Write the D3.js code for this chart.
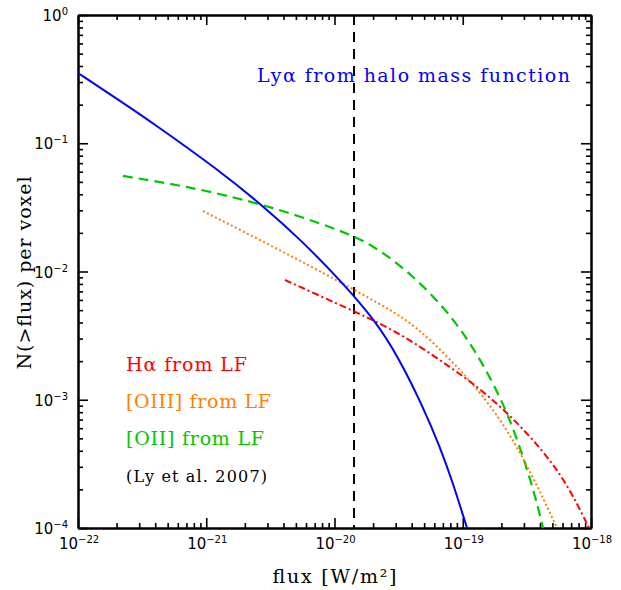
<!DOCTYPE html>
<html>
<head>
<meta charset="utf-8">
<script src="https://cdn.jsdelivr.net/npm/d3@7"></script>
<style>
  body { margin: 0; background: #fff; }
  text { font-family: "DejaVu Serif", serif; }
  .tick-label { font-family: "DejaVu Sans", sans-serif; }
</style>
</head>
<body>
<script>
// flux values [W/m^2] and N(>flux) per voxel
var lyaFlux = [1e-22, 2.13e-22, 3.64e-22, 1.28e-21, 2.77e-21, 5.38e-21, 1.104e-20, 2.07e-20, 3.24e-20, 4.9e-20, 6.65e-20, 8.39e-20, 1.079e-19];
var lyaN    = [0.353, 0.2135, 0.149, 0.0608, 0.0324, 0.0179, 0.00859, 0.00419, 0.00204, 0.000878, 0.000428, 0.000224, 1e-4];

var oiiFlux = [2.24e-22, 6.83e-22, 2.63e-21, 1.104e-20, 2.0e-20, 4.09e-20, 8.39e-20, 1.44e-19, 2.34e-19, 3.53e-19, 4.23e-19];
var oiiN    = [0.0556, 0.0464, 0.0342, 0.0211, 0.0161, 0.00939, 0.00442, 0.00193, 0.000734, 0.000209, 1e-4];

var oiiiFlux = [9.43e-22, 3.76e-21, 1.104e-20, 2.26e-20, 3.68e-20, 5.86e-20, 9.52e-20, 1.36e-19, 2.34e-19, 4.0e-19, 5.43e-19];
var oiiiN    = [0.0296, 0.0147, 0.00828, 0.00558, 0.00419, 0.00282, 0.00171, 0.00115, 0.000551, 0.000194, 1e-4];

var haFlux = [4.11e-21, 1.104e-20, 2.0e-20, 3.68e-20, 6.65e-20, 1.2e-19, 2.21e-19, 4.0e-19, 6.5e-19, 9.65e-19];
var haN    = [0.00859, 0.00548, 0.00419, 0.00303, 0.00204, 0.00135, 0.000803, 0.000428, 0.000224, 1e-4];

var fluxLimit = 1.42e-20;

var xDecades = [-22, -21, -20, -19, -18];
var yDecades = [0, -1, -2, -3, -4];

var legendLines = [
  { label: "H\u03b1 from LF", color: "#ff0000", size: 19, len: 121 },
  { label: "[OIII] from LF", color: "#ff8000", size: 19, len: 145 },
  { label: "[OII] from LF", color: "#00c800", size: 19, len: 138 },
  { label: "(Ly et al. 2007)", color: "#000000", size: 16, len: 141 }
];

main();

function main() {
  setupCanvasSize();
  appendSvg("body");
  setupScales();
  appendAxes();
  appendCurves();
  addLabels();
}

function setupCanvasSize() {
  margin = { top: 15, left: 78, bottom: 62, right: 30 };
  width = 621 - margin.left - margin.right;
  height = 590 - margin.top - margin.bottom;
}

function appendSvg(domElement) {
  svg = d3.select(domElement).append("svg")
    .attr("width", 621)
    .attr("height", 590)
    .append("g")
    .attr("transform", `translate(${margin.left}, ${margin.top})`);
}

function setupScales() {
  x = d3.scaleLog().domain([1e-22, 1e-18]).range([0, width]);
  y = d3.scaleLog().domain([1e-4, 1]).range([height, 0]);
}

function minorTicks(decades) {
  var out = [];
  decades.forEach(function (e) {
    for (var m = 2; m <= 9; m++) out.push(m * Math.pow(10, e));
  });
  return out;
}

function styleAxis(g) {
  g.select(".domain").attr("stroke", "#000").attr("stroke-width", 2);
  g.selectAll(".tick line").attr("stroke", "#000").attr("stroke-width", 1.6);
  g.selectAll(".tick text").remove();
}

function appendAxes() {
  var xMajor = xDecades.map(function (e) { return Math.pow(10, e); });
  var yMajor = yDecades.map(function (e) { return Math.pow(10, e); });
  var xMinor = minorTicks(xDecades.slice(0, 4));
  var yMinor = minorTicks(yDecades.slice(1));

  var axes = [
    [d3.axisBottom(x), height, 0, xMajor, xMinor],
    [d3.axisTop(x), 0, 0, xMajor, xMinor],
    [d3.axisLeft(y), 0, 0, yMajor, yMinor],
    [d3.axisRight(y), 0, width, yMajor, yMinor]
  ];
  axes.forEach(function (a) {
    svg.append("g")
      .attr("transform", `translate(${a[2]}, ${a[1]})`)
      .call(a[0].tickValues(a[4]).tickSize(-5).tickSizeOuter(0).tickFormat(""))
      .call(styleAxis);
    svg.append("g")
      .attr("transform", `translate(${a[2]}, ${a[1]})`)
      .call(a[0].tickValues(a[3]).tickSize(-10).tickSizeOuter(0).tickFormat(""))
      .call(styleAxis);
  });

  // x tick labels
  var xl = svg.selectAll(".xlab").data(xDecades).enter().append("text")
    .attr("class", "tick-label")
    .attr("x", function (d) { return x(Math.pow(10, d)) + 1; })
    .attr("y", height + 21)
    .attr("text-anchor", "middle")
    .style("font-size", "15px");
  xl.append("tspan").text("10");
  xl.append("tspan").attr("dy", -6).style("font-size", "10px").text(function (d) { return "\u2212" + (-d); });

  // y tick labels
  var yl = svg.selectAll(".ylab").data(yDecades).enter().append("text")
    .attr("class", "tick-label")
    .attr("x", -10)
    .attr("y", function (d) { return y(Math.pow(10, d)) + 6; })
    .attr("text-anchor", "end")
    .style("font-size", "15px");
  yl.append("tspan").text("10");
  yl.append("tspan").attr("dy", -6).style("font-size", "10px")
    .text(function (d) { return d === 0 ? "0" : "\u2212" + (-d); });
}

function drawCurve(xs, ys, color, dash, w) {
  var pts = xs.map(function (v, i) { return [v, ys[i]]; });
  var line = d3.line()
    .x(function (d) { return x(d[0]); })
    .y(function (d) { return y(d[1]); })
    .curve(d3.curveBasis);
  svg.append("path")
    .datum(pts)
    .attr("fill", "none")
    .attr("stroke", color)
    .attr("stroke-width", w)
    .attr("stroke-dasharray", dash)
    .attr("d", line);
}

function appendCurves() {
  svg.append("line")
    .attr("x1", x(fluxLimit)).attr("x2", x(fluxLimit))
    .attr("y1", 0).attr("y2", height)
    .attr("stroke", "#000")
    .attr("stroke-width", 2)
    .attr("stroke-dasharray", "10,7");

  drawCurve(oiiFlux, oiiN, "#00c800", "10,6", 2.2);
  drawCurve(oiiiFlux, oiiiN, "#ff8000", "2,2.5", 2);
  drawCurve(haFlux, haN, "#ff0000", "7,3,2,3", 2);
  drawCurve(lyaFlux, lyaN, "#0000ff", null, 2);
}

function addLabels() {
  svg.append("text")
    .attr("x", 179)
    .attr("y", 67)
    .attr("textLength", 313)
    .attr("lengthAdjust", "spacing")
    .style("font-size", "19px")
    .attr("fill", "#0000ff")
    .text("Ly\u03b1 from halo mass function");

  svg.selectAll(".legend").data(legendLines).enter().append("text")
    .attr("x", 48)
    .attr("y", function (d, i) { return 356 + i * 37; })
    .attr("textLength", function (d) { return d.len; })
    .attr("lengthAdjust", "spacing")
    .attr("fill", function (d) { return d.color; })
    .style("font-size", function (d) { return d.size + "px"; })
    .text(function (d) { return d.label; });

  svg.append("text")
    .attr("x", width / 2)
    .attr("y", height + 55)
    .attr("text-anchor", "middle")
    .attr("textLength", 124)
    .attr("lengthAdjust", "spacing")
    .style("font-size", "19px")
    .text("flux [W/m\u00b2]");

  svg.append("text")
    .attr("transform", `translate(-47, 258) rotate(-90)`)
    .attr("text-anchor", "middle")
    .attr("textLength", 193)
    .attr("lengthAdjust", "spacing")
    .style("font-size", "19px")
    .text("N(>flux) per voxel");
}
</script>
</body>
</html>
